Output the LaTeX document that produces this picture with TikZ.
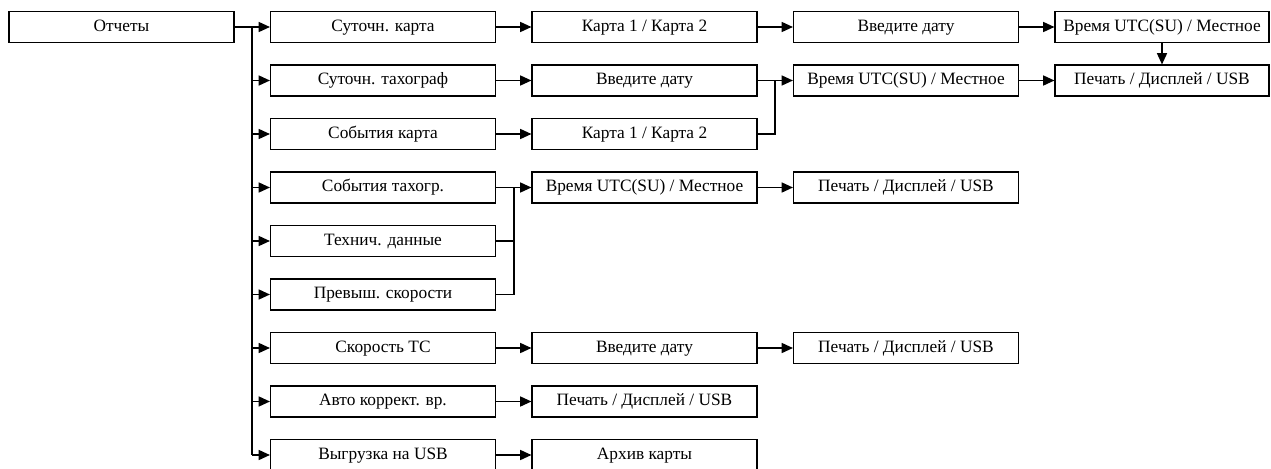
\documentclass[tikz,border=0pt]{standalone}
\usepackage{fontspec}
\setmainfont{Liberation Serif}
\usepackage{tikz}
\usetikzlibrary{arrows.meta}

\begin{document}
\begin{tikzpicture}[x=0.75pt, y=-0.75pt,
    every node/.style={font=\fontsize{13}{15}\selectfont},
    box/.style={draw, line width=0.8pt, minimum width=168.75pt, minimum height=23.25pt,
        inner sep=0pt, text height=9pt, text depth=2.5pt},
    lastbox/.style={box, minimum width=160.5pt},
    arr/.style={-{Triangle[length=8.5pt,width=7.5pt]}, line width=1.2pt},
    link/.style={line width=1.2pt},
    busline/.style={line width=1.7pt}]
    \useasboundingbox (0,0) rectangle (1271,468);
    \clip (0,0) rectangle (1271,468);

    % Root
    \node[box] (otch) at (121.5,27) {Отчеты};

    % Column 2 - report types
    \node[box] (dcard) at (383,27) {Суточн. карта};
    \node[box] (dtach) at (383,80.5) {Суточн. тахограф};
    \node[box] (ecard) at (383,134) {События карта};
    \node[box] (etach) at (383,187.5) {События тахогр.};
    \node[box] (tech) at (383,241) {Технич. данные};
    \node[box] (over) at (383,294.5) {Превыш. скорости};
    \node[box] (speed) at (383,348) {Скорость ТС};
    \node[box] (auto) at (383,401.5) {Авто коррект. вр.};
    \node[box] (upl) at (383,455) {Выгрузка на USB};

    % Column 3
    \node[box] (dcardsel) at (644.5,27) {Карта 1 / Карта 2};
    \node[box] (dtachdate) at (644.5,80.5) {Введите дату};
    \node[box] (ecardsel) at (644.5,134) {Карта 1 / Карта 2};
    \node[box] (etime) at (644.5,187.5) {Время UTC(SU) / Местное};
    \node[box] (speeddate) at (644.5,348) {Введите дату};
    \node[box] (autoout) at (644.5,401.5) {Печать / Дисплей / USB};
    \node[box] (arch) at (644.5,455) {Архив карты};

    % Column 4
    \node[box] (dcarddate) at (906,27) {Введите дату};
    \node[box] (dtime) at (906,80.5) {Время UTC(SU) / Местное};
    \node[box] (eout) at (906,187.5) {Печать / Дисплей / USB};
    \node[box] (speedout) at (906,348) {Печать / Дисплей / USB};

    % Column 5
    \node[lastbox] (dcardtime) at (1162,27) {Время UTC(SU) / Местное};
    \node[lastbox] (dout) at (1162,80.5) {Печать / Дисплей / USB};

    % Bus from the root
    \coordinate (bus) at (252,27);
    \draw[arr] (otch) -- (dcard);
    \draw[busline] (bus) -- (bus |- upl.west);
    \draw[arr] (bus |- dtach.west) -- (dtach);
    \draw[arr] (bus |- ecard.west) -- (ecard);
    \draw[arr] (bus |- etach.west) -- (etach);
    \draw[arr] (bus |- tech.west) -- (tech);
    \draw[arr] (bus |- over.west) -- (over);
    \draw[arr] (bus |- speed.west) -- (speed);
    \draw[arr] (bus |- auto.west) -- (auto);
    \draw[arr] (bus |- upl.west) -- (upl);

    % Daily card chain
    \draw[arr] (dcard) -- (dcardsel);
    \draw[arr] (dcardsel) -- (dcarddate);
    \draw[arr] (dcarddate) -- (dcardtime);
    \draw[arr] (dcardtime) -- (dout);

    % Daily tachograph and card events join
    \coordinate (join1) at (775,80.5);
    \draw[arr] (dtach) -- (dtachdate);
    \draw[arr] (ecard) -- (ecardsel);
    \draw[arr] (dtachdate) -- (dtime);
    \draw[link] (ecardsel.east) -| (join1);
    \draw[arr] (dtime) -- (dout);

    % Events, technical data and overspeed join
    \coordinate (join2) at (514,187.5);
    \draw[arr] (etach) -- (etime);
    \draw[link] (tech.east) -| (join2);
    \draw[link] (over.east) -| (join2);
    \draw[arr] (etime) -- (eout);

    % Remaining rows
    \draw[arr] (speed) -- (speeddate);
    \draw[arr] (speeddate) -- (speedout);
    \draw[arr] (auto) -- (autoout);
    \draw[arr] (upl) -- (arch);
\end{tikzpicture}
\end{document}
